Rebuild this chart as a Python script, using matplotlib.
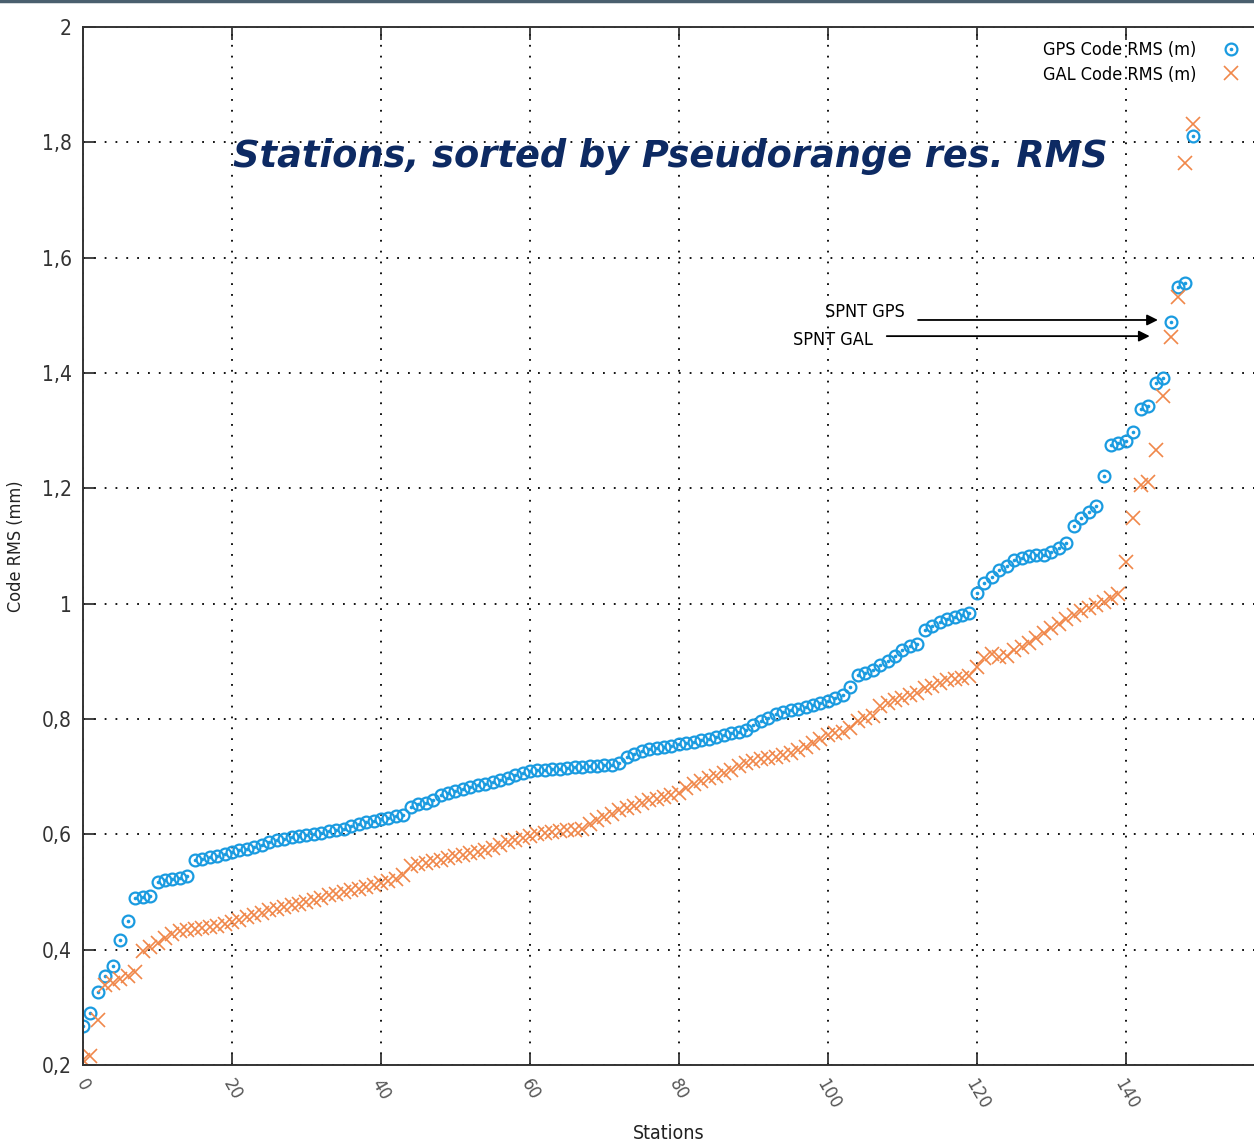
#!/usr/bin/env python

import matplotlib
matplotlib.use('Agg')
import matplotlib.pyplot as plt
from matplotlib.ticker import FuncFormatter
from matplotlib.legend_handler import HandlerTuple
import numpy as np

# code RMS per station, both series sorted ascending
gps_rms = [0.268, 0.290, 0.327, 0.354, 0.372, 0.417, 0.450, 0.490, 0.491, 0.493,
           0.517, 0.520, 0.523, 0.524, 0.528, 0.556, 0.558, 0.560, 0.563, 0.566,
           0.569, 0.572, 0.575, 0.578, 0.582, 0.586, 0.590, 0.592, 0.595, 0.597,
           0.599, 0.601, 0.603, 0.605, 0.607, 0.610, 0.614, 0.618, 0.621, 0.624,
           0.627, 0.629, 0.632, 0.634, 0.648, 0.652, 0.655, 0.660, 0.668, 0.672,
           0.676, 0.679, 0.682, 0.685, 0.688, 0.691, 0.694, 0.697, 0.703, 0.707,
           0.710, 0.711, 0.712, 0.713, 0.714, 0.715, 0.716, 0.717, 0.718, 0.719,
           0.720, 0.721, 0.724, 0.735, 0.740, 0.745, 0.748, 0.750, 0.752, 0.754,
           0.756, 0.758, 0.760, 0.763, 0.766, 0.769, 0.772, 0.775, 0.778, 0.781,
           0.790, 0.796, 0.802, 0.808, 0.812, 0.815, 0.818, 0.821, 0.824, 0.828,
           0.832, 0.836, 0.842, 0.856, 0.876, 0.880, 0.885, 0.893, 0.900, 0.910,
           0.920, 0.927, 0.930, 0.955, 0.962, 0.968, 0.973, 0.977, 0.980, 0.984,
           1.019, 1.036, 1.046, 1.058, 1.065, 1.075, 1.080, 1.083, 1.084, 1.085,
           1.090, 1.097, 1.105, 1.135, 1.149, 1.159, 1.169, 1.221, 1.276, 1.279,
           1.282, 1.298, 1.338, 1.343, 1.383, 1.391, 1.488, 1.549, 1.556, 1.811]

gal_rms = [0.209, 0.216, 0.278, 0.339, 0.343, 0.349, 0.355, 0.362, 0.398, 0.405,
           0.412, 0.420, 0.428, 0.432, 0.434, 0.435, 0.437, 0.439, 0.441, 0.444,
           0.448, 0.452, 0.456, 0.460, 0.464, 0.468, 0.471, 0.474, 0.477, 0.480,
           0.483, 0.487, 0.490, 0.494, 0.497, 0.500, 0.503, 0.506, 0.509, 0.512,
           0.516, 0.519, 0.523, 0.530, 0.545, 0.548, 0.550, 0.553, 0.556, 0.559,
           0.562, 0.565, 0.567, 0.570, 0.573, 0.577, 0.581, 0.586, 0.590, 0.594,
           0.598, 0.600, 0.602, 0.604, 0.606, 0.607, 0.608, 0.609, 0.618, 0.625,
           0.630, 0.636, 0.642, 0.646, 0.650, 0.655, 0.659, 0.662, 0.665, 0.668,
           0.672, 0.680, 0.688, 0.693, 0.697, 0.701, 0.706, 0.712, 0.718, 0.724,
           0.728, 0.731, 0.733, 0.735, 0.738, 0.741, 0.746, 0.752, 0.758, 0.765,
           0.772, 0.775, 0.778, 0.785, 0.797, 0.802, 0.806, 0.822, 0.828, 0.833,
           0.837, 0.842, 0.845, 0.853, 0.858, 0.862, 0.867, 0.870, 0.872, 0.874,
           0.890, 0.905, 0.912, 0.908, 0.909, 0.920, 0.925, 0.932, 0.940, 0.949,
           0.958, 0.965, 0.974, 0.980, 0.988, 0.993, 0.998, 1.003, 1.010, 1.016,
           1.072, 1.149, 1.206, 1.211, 1.267, 1.360, 1.462, 1.532, 1.764, 1.832]

x_ticks = [0, 20, 40, 60, 80, 100, 120, 140]
y_ticks = [0.2, 0.4, 0.6, 0.8, 1.0, 1.2, 1.4, 1.6, 1.8, 2.0]

gps_col = '#1a9be0'
gal_col = '#f0874a'
gp_font = ['DejaVu Sans']


def comma_fmt(v, pos):
    s = ('%.1f' % v).rstrip('0').rstrip('.')
    return s.replace('.', ',')


if __name__ == "__main__":

    fig = plt.figure(figsize=(12.54, 11.41), dpi=100)
    ax = fig.add_axes([0.0662, 0.0666, 0.9338, 0.9097])

    stations = np.arange(len(gps_rms))

    # gps: circle with a dot inside, gal: crosses
    h_c, = ax.plot(stations, gps_rms, 'o', ms=8.5, mfc='none', mec=gps_col, mew=1.6)
    h_d, = ax.plot(stations, gps_rms, 'o', ms=2.6, mfc=gps_col, mec='none')
    h_x, = ax.plot(stations, gal_rms, 'x', ms=10, color=gal_col, mew=1.2)

    ax.set_xlim(0, 157.2)
    ax.set_ylim(0.2, 2.0)
    ax.set_xticks(x_ticks)
    ax.set_yticks(y_ticks)
    ax.yaxis.set_major_formatter(FuncFormatter(comma_fmt))

    ax.grid(True, color='black', linestyle=(0, (1, 5)), linewidth=1.3)
    ax.tick_params(direction='in', length=9, width=1.2, top=True, right=False,
                   colors='#222222')
    for spine in ['left', 'bottom', 'top']:
        ax.spines[spine].set_linewidth(1.4)
        ax.spines[spine].set_color('#333333')
    ax.spines['right'].set_visible(False)

    for label in ax.get_yticklabels():
        label.set_family(gp_font)
        label.set_stretch('condensed')
        label.set_size(15)
        label.set_color('#333333')
    ax.tick_params(axis='y', pad=8)
    for label in ax.get_xticklabels():
        label.set_family(gp_font)
        label.set_size(12)
        label.set_rotation(-60)
        label.set_color('#555555')
    ax.tick_params(axis='x', pad=8)

    ax.set_xlabel('Stations', family=gp_font, stretch='condensed', fontsize=14,
                  color='#222222', labelpad=8)
    ax.set_ylabel('Code RMS (mm)', family=gp_font, stretch='condensed', fontsize=13,
                  color='#222222', labelpad=12)

    # title inside the plot area
    ax.text(20.1, 1.775, 'Stations, sorted by Pseudorange res. RMS',
            ha='left', va='center', fontsize=26.5, fontweight='bold', fontstyle='italic',
            color='#0d2a63', family='DejaVu Sans')

    # SPNT labels and horizontal arrows
    ax.text(110.3, 1.506, 'SPNT GPS', ha='right', va='center', family=gp_font,
            stretch='condensed', fontsize=13)
    ax.annotate('', xy=(144.3, 1.492), xytext=(112.1, 1.492),
                arrowprops=dict(arrowstyle='-|>', color='black', lw=1.3,
                                shrinkA=0, shrinkB=0, mutation_scale=16))
    ax.text(106.0, 1.457, 'SPNT GAL', ha='right', va='center', family=gp_font,
            stretch='condensed', fontsize=13)
    ax.annotate('', xy=(143.2, 1.464), xytext=(107.9, 1.464),
                arrowprops=dict(arrowstyle='-|>', color='black', lw=1.3,
                                shrinkA=0, shrinkB=0, mutation_scale=16))

    leg = ax.legend([(h_c, h_d), h_x], ['GPS Code RMS (m)', 'GAL Code RMS (m)'],
                    handler_map={tuple: HandlerTuple(ndivide=1, pad=0)},
                    loc='upper right', bbox_to_anchor=(1.0, 1.0), frameon=False,
                    markerfirst=False,
                    prop={'family': gp_font, 'stretch': 'condensed', 'size': 13},
                    handlelength=1.0, handletextpad=1.4, labelspacing=0.35,
                    borderaxespad=0.4)

    # thin frame strip at top of the screenshot
    fig.add_artist(plt.Line2D([0, 1], [0.999, 0.999], transform=fig.transFigure,
                              color='#4a5f6e', lw=2.5))

    plt.savefig('out.png', dpi=100)
